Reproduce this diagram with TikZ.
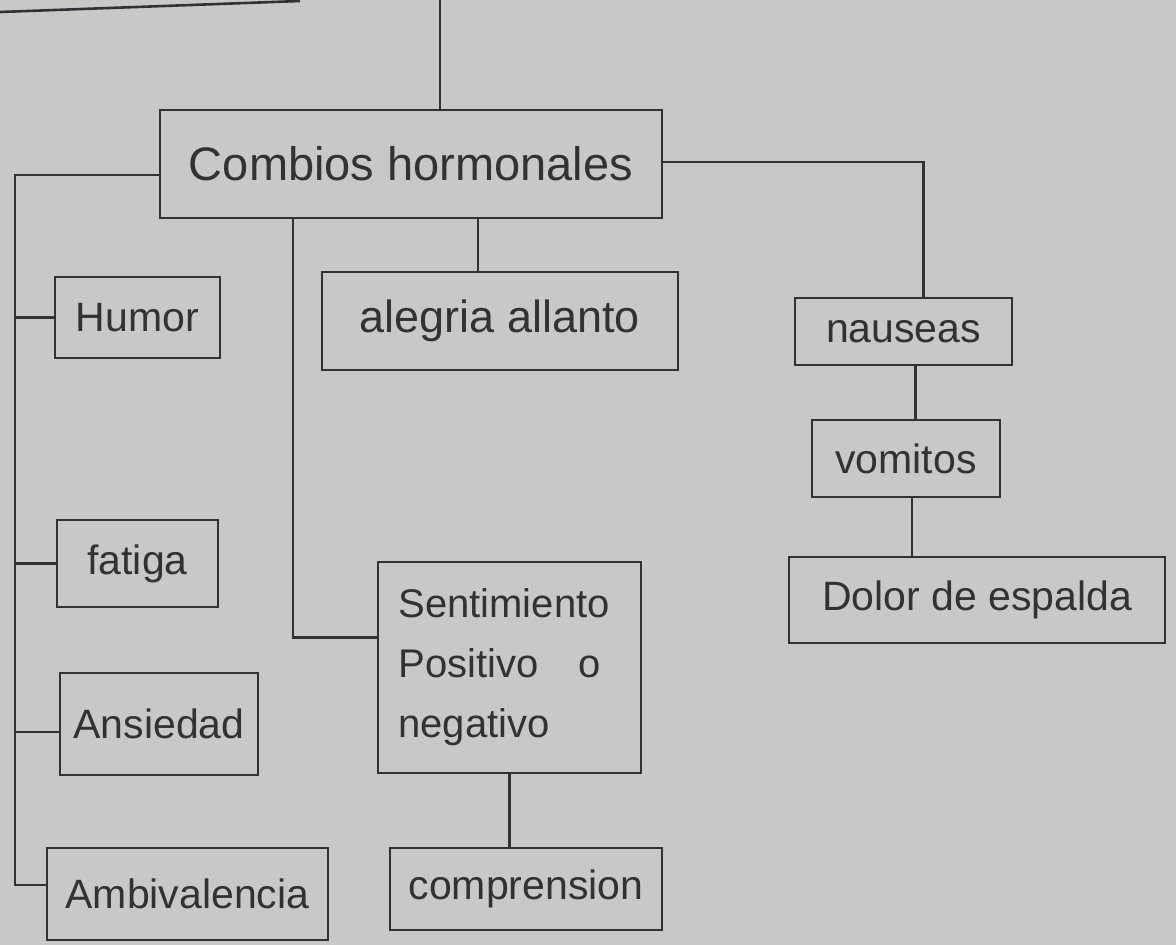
\documentclass[tikz,border=0pt]{standalone}
\usepackage{fontspec}
\setmainfont{Liberation Sans}
\definecolor{paper}{RGB}{200,200,198}
\definecolor{ink}{RGB}{50,50,54}
\begin{document}
\begin{tikzpicture}[x=1pt,y=-1pt,
  box/.style={draw=ink,line width=2.6pt,rectangle,inner sep=0pt,text=ink,
    font=\fontsize{41}{48}\selectfont},
  link/.style={draw=ink,line width=2.6pt}]
\fill[paper] (0,0) rectangle (1176,945);
\useasboundingbox (0,0) rectangle (1176,945);
% nodes
\node[box,minimum width=502pt,minimum height=108pt,font=\fontsize{47}{54}\selectfont] (comb) at (411,164) {Combios hormonales};
\node[box,minimum width=165pt,minimum height=81pt] (humor) at (137.5,317.5) {Humor};
\node[box,minimum width=161pt,minimum height=87pt] (fat) at (137.5,563.5) {fatiga};
\node[box,minimum width=198pt,minimum height=102pt] (ans) at (159,724) {Ansiedad};
\node[box,minimum width=281pt,minimum height=92pt] (amb) at (187.5,894) {Ambivalencia};
\node[box,minimum width=356pt,minimum height=98pt,font=\fontsize{45}{52}\selectfont] (aleg) at (500,321) {alegria allanto};
\node[box,minimum width=263pt,minimum height=211pt,text width=222pt,align=left,
  font=\fontsize{40}{60}\selectfont] (sent) at (509.5,667.5) {Sentimiento\\Positivo\quad o\\negativo};
\node[box,minimum width=272pt,minimum height=82pt] (comp) at (526,889) {comprension};
\node[box,minimum width=217pt,minimum height=67pt] (naus) at (903.5,331.5) {nauseas};
\node[box,minimum width=188pt,minimum height=77pt] (vom) at (906,458.5) {vomitos};
\node[box,minimum width=376pt,minimum height=86pt] (dolor) at (977,600) {Dolor de espalda};
% free ends
\coordinate (top) at (440,0);
\coordinate (tl1) at (0,12);
\coordinate (tl2) at (300,1);
\coordinate (trunk) at (15,885);
% connectors
\draw[link] (tl1) -- (tl2);
\draw[link] (top) -- (top |- comb.north);
\draw[link] ([yshift=-11pt]comb.west) -| (trunk) -- (trunk -| amb.west);
\draw[link] (humor.west) -- (humor.west -| trunk);
\draw[link] (fat.west) -- (fat.west -| trunk);
\draw[link] ([yshift=-8pt]ans.west) -- ([yshift=-8pt]ans.west -| trunk);
\draw[link] ([xshift=-118pt]comb.south) |- ([yshift=30pt]sent.west);
\draw[link] ([xshift=-22pt]aleg.north) -- ([xshift=-22pt]aleg.north |- comb.south);
\draw[link] ([yshift=2pt]comb.east) -| ([xshift=20pt]naus.north);
\draw[link] ([xshift=12pt]naus.south) -- ([xshift=12pt]naus.south |- vom.north);
\draw[link] ([xshift=6pt]vom.south) -- ([xshift=6pt]vom.south |- dolor.north);
\draw[link] (sent.south) -- (sent.south |- comp.north);
\end{tikzpicture}
\end{document}
